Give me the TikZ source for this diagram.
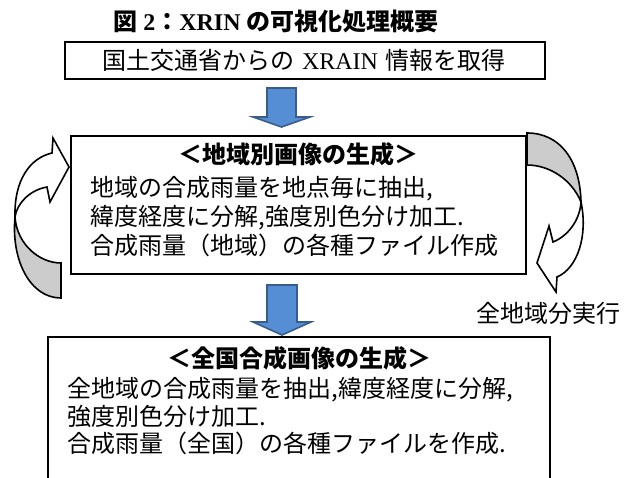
\documentclass[tikz,border=0pt]{standalone}
\usepackage{fontspec}
\setmainfont{Liberation Serif}
\newfontfamily\jp{Noto Sans CJK JP}
\newcommand\jpsize{\fontsize{12}{14}\selectfont}
\newcommand\lat[1]{{\rmfamily #1}}
\definecolor{arrowblue}{RGB}{85,142,213}
\definecolor{arrowedge}{RGB}{56,93,138}
\tikzset{
  box/.style={draw, line width=0.9pt, rectangle, inner sep=0pt},
  txt/.style={anchor=base west, inner sep=0pt, font=\jpsize\jp},
  head/.style={anchor=base, inner sep=0pt, font=\jpsize\jp\bfseries},
  bluearrow/.style={draw=arrowedge, fill=arrowblue, line width=0.8pt, line join=miter},
  curl/.style={draw, line width=0.8pt, fill=white, line join=miter},
  curlback/.style={draw, line width=0.8pt, fill=black!20, line join=miter},
}

\begin{document}
\begin{tikzpicture}[x=0.5pt, y=-0.5pt]
\useasboundingbox (0,0) rectangle (626,477);
\clip (0,0) rectangle (626,477);
% title
\node[head] (title) at (276,30) {図 \lat{2}：\lat{XRIN} の可視化処理概要};
% source box
\node[box, text width=203pt, inner xsep=18.5pt, minimum height=18.5pt, align=left, font=\jpsize\jp] (src) at (305,60.5) {国土交通省からの \lat{XRAIN} 情報を取得};
\draw[bluearrow] (267,88) -- (296,88) -- (296,117) -- (310,117) -- (281.5,127) -- (253,117) -- (267,117) -- cycle;
% regional images
\node[box, minimum width=227.5pt, minimum height=69pt] (region) at (298.5,205) {};
\node[head] (regiontitle) at (298.5,163) {＜地域別画像の生成＞};
\node[txt] (r1) at (90,196) {地域の合成雨量を地点毎に抽出,};
\node[txt] (r2) at (90,225) {緯度経度に分解,強度別色分け加工.};
\node[txt] (r3) at (90,254) {合成雨量（地域）の各種ファイル作成};
% loop arrows
\draw[curl] (15,217) .. controls (14,180) and (30,158) .. (52,153) -- (53,138) -- (69,167) -- (50,202) -- (47,187) .. controls (30,190) and (17,203) .. (15,217) -- cycle;
\draw[curlback] (15,217) .. controls (11,260) and (30,298) .. (61,298) -- (61,263) .. controls (40,263) and (17,245) .. (15,217) -- cycle;
\draw[curlback] (527,133) .. controls (560,133) and (580,160) .. (581,202) .. controls (572,180) and (550,165) .. (527,165) -- cycle;
\draw[curl] (581,202) .. controls (588,235) and (578,268) .. (557,277) -- (556,292) -- (537,263) -- (549,226) -- (553,242) .. controls (568,236) and (580,220) .. (581,202) -- cycle;
\node[txt, anchor=base] (loop) at (548,322) {全地域分実行};
\draw[bluearrow] (267,285) -- (297,285) -- (297,322) -- (311,322) -- (282,335) -- (253,322) -- (267,322) -- cycle;
% national image
\node[box, minimum width=251pt, minimum height=75pt] (nation) at (299,412) {};
\node[head] (nationtitle) at (299,367) {＜全国合成画像の生成＞};
\node[txt] (n1) at (67,397) {全地域の合成雨量を抽出,緯度経度に分解,};
\node[txt] (n2) at (67,425) {強度別色分け加工.};
\node[txt] (n3) at (67,452) {合成雨量（全国）の各種ファイルを作成.};
\end{tikzpicture}
\end{document}
